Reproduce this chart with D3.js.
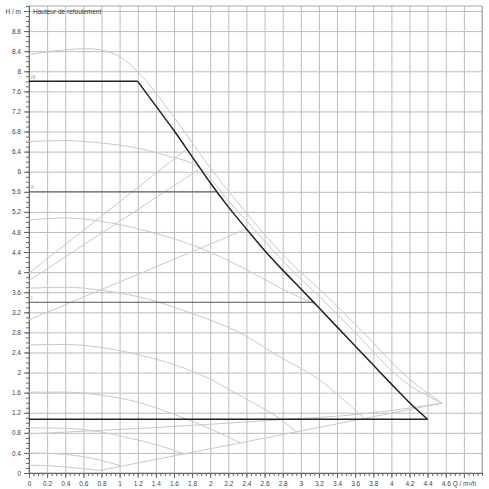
<!DOCTYPE html>
<html>
<head>
<meta charset="utf-8">
<script src="https://cdn.jsdelivr.net/npm/d3@7"></script>
<style>
  html,body{margin:0;padding:0;background:#fff;}
  svg{display:block;font-family:"Liberation Sans",Arial,sans-serif;}
</style>
</head>
<body>
<div id="chart"></div>
<script>
// tick labels
const xTicks=[0,0.2,0.4,0.6,0.8,1,1.2,1.4,1.6,1.8,2,2.2,2.4,2.6,2.8,3,3.2,3.4,3.6,3.8,4,4.2,4.4,4.6];
const yTicks=[0,0.4,0.8,1.2,1.6,2,2.4,2.8,3.2,3.6,4,4.4,4.8,5.2,5.6,6,6.4,6.8,7.2,7.6,8,8.4,8.8];
const xUnit="Q / m³/h", yUnit="H / m", title="Hauteur de refoulement";

// control line (bold) : [Q, H]
const ctrlTop=[[0,7.8],[1.2,7.8]];
const ctrlCurve=[[1.2,7.8],[1.4,7.31],[1.6,6.82],[1.8,6.3],[2,5.78],[2.2,5.3],[2.4,4.86],[2.6,4.43],[2.8,4.04],[3,3.67],[3.2,3.29],[3.4,2.91],[3.6,2.53],[3.8,2.15],[4,1.77],[4.2,1.4],[4.4,1.07]];
const ctrlBottom=[[0,1.07],[4.4,1.07]];

// set points
const stepII=[[0,5.6],[2.07,5.6]];
const stepI=[[0,3.4],[3.14,3.4]];
const stepLabels=[["III",7.8],["II",5.6],["I",3.4]];

// pump curves (light)
const curveMax=[[0,8.33],[0.3,8.41],[0.65,8.45],[0.95,8.34],[1.2,7.99],[1.5,7.33],[1.78,6.63],[2,6.08],[2.3,5.4],[2.6,4.75],[2.9,4.17],[3.3,3.5],[3.7,2.78],[4.2,1.87],[4.56,1.39]];
const curve2=[[0,6.6],[0.4,6.62],[0.8,6.57],[1.2,6.47],[1.5,6.33],[1.9,6.06],[2.2,5.42],[2.5,4.82],[2.85,4.13],[3.2,3.52],[3.6,2.8],[4.1,1.88],[4.56,1.39]];
const curve3=[[0,5.04],[0.4,5.08],[0.9,4.98],[1.34,4.8],[1.89,4.48],[2.41,4.04],[2.8,3.66],[3.16,3.36]];
const curve4=[[0,3.68],[0.4,3.7],[0.8,3.64],[1.23,3.5],[1.78,3.19],[2.33,2.79],[2.77,2.31],[3.21,1.85],[3.45,1.5],[3.7,1.08]];
const curve5=[[0,2.55],[0.4,2.56],[0.8,2.5],[1.22,2.35],[1.6,2.16],[2,1.87],[2.22,1.65],[2.5,1.37],[2.77,1.08],[2.95,0.82]];
const curve6=[[0,1.61],[0.4,1.61],[0.8,1.55],[1.2,1.41],[1.6,1.17],[2,0.88],[2.33,0.6]];
const curve7=[[0,0.9],[0.4,0.89],[0.75,0.83],[1.1,0.7],[1.45,0.54],[1.72,0.38]];
const curve8=[[0,0.4],[0.4,0.37],[0.75,0.27],[1.02,0.14]];
const curve9=[[0,0.16],[0.4,0.12],[0.78,0.05]];

// rising lines (light)
const rise1=[[0,3.98],[1.74,6.45]];
const rise2=[[0,3.83],[1.87,6.04]];
const rise3=[[0,3.05],[2.4,4.86]];
const minLine=[[0.78,0.05],[4.56,1.39]];
const lowLine=[[0,0.78],[1.34,0.9],[2.77,1.06],[3.65,1.17],[4.56,1.39]];

const W=489,H=489;
const x=d3.scaleLinear().domain([0,5]).range([29,482]);
const y=d3.scaleLinear().domain([0,9.3]).range([473,6]);

const svg=d3.select("#chart").append("svg").attr("width",W).attr("height",H);

// grid
const gridX=d3.range(0,26).map(i=>+(i*0.2).toFixed(1));
const gridY=d3.range(0,24).map(i=>+(i*0.4).toFixed(1));
svg.append("g").attr("transform",`translate(0,${y(0)})`)
  .call(d3.axisBottom(x).tickValues(gridX).tickSize(-(y(0)-y(9.3))).tickFormat(""))
  .call(s=>s.select(".domain").remove())
  .call(s=>s.selectAll("line").attr("stroke","#bcbcbc"));
svg.append("g").attr("transform",`translate(${x(0)},0)`)
  .call(d3.axisLeft(y).tickValues(gridY).tickSize(-(x(5)-x(0))).tickFormat(""))
  .call(s=>s.select(".domain").remove())
  .call(s=>s.selectAll("line").attr("stroke","#bcbcbc"));
svg.append("rect").attr("x",x(0)).attr("y",y(9.3)).attr("width",x(5)-x(0)).attr("height",y(0)-y(9.3))
  .attr("fill","none").attr("stroke","#a8a8a8");

// minor ticks
svg.append("g").attr("transform",`translate(0,${y(0)})`)
  .call(d3.axisBottom(x).tickValues(d3.range(0,101).map(i=>i*0.05)).tickSize(3).tickFormat(""))
  .call(s=>s.selectAll("line,path").attr("stroke","#666"));
svg.append("g").attr("transform",`translate(${x(0)},0)`)
  .call(d3.axisLeft(y).tickValues(d3.range(0,93).map(i=>i*0.1)).tickSize(3).tickFormat(""))
  .call(s=>s.selectAll("line,path").attr("stroke","#666"));

// labelled axes
const fmt=d=>String(d);
svg.append("g").attr("transform",`translate(0,${y(0)})`)
  .call(d3.axisBottom(x).tickValues(xTicks.concat([4.8])).tickSize(5).tickPadding(3)
    .tickFormat(d=>d===4.8?xUnit:fmt(d)))
  .call(s=>s.select(".domain").remove())
  .call(s=>s.selectAll("line").attr("stroke","#666"))
  .call(s=>s.selectAll("text").attr("font-size",6.5).attr("fill","#444").attr("font-family","Liberation Sans,Arial,sans-serif"));
svg.append("g").attr("transform",`translate(${x(0)},0)`)
  .call(d3.axisLeft(y).tickValues(yTicks.concat([9.2])).tickSize(5).tickPadding(3)
    .tickFormat(d=>d===9.2?yUnit:fmt(d)))
  .call(s=>s.select(".domain").remove())
  .call(s=>s.selectAll("line").attr("stroke","#666"))
  .call(s=>s.selectAll("text").attr("font-size",6.5).attr("fill","#444").attr("font-family","Liberation Sans,Arial,sans-serif"));

svg.append("text").attr("x",x(0)+4).attr("y",y(9.2)+2.5)
  .attr("font-size",6.5).attr("fill","#333").text(title);

const line=d3.line().x(d=>x(d[0])).y(d=>y(d[1]));
const smooth=d3.line().x(d=>x(d[0])).y(d=>y(d[1])).curve(d3.curveMonotoneX);

// light curves
const lightCurves=[curveMax,curve2,curve3,curve4,curve5,curve6,curve7,curve8,curve9,lowLine];
svg.append("g").selectAll("path").data(lightCurves).join("path")
  .attr("d",smooth).attr("fill","none").attr("stroke","#c9c9c9").attr("stroke-width",1);
svg.append("g").selectAll("path").data([rise1,rise2,rise3,minLine]).join("path")
  .attr("d",line).attr("fill","none").attr("stroke","#c9c9c9").attr("stroke-width",1);

// set lines
svg.append("g").selectAll("path").data([stepII,stepI]).join("path")
  .attr("d",line).attr("fill","none").attr("stroke","#555").attr("stroke-width",1);
svg.append("g").selectAll("text").data(stepLabels).join("text")
  .attr("x",x(0)+2).attr("y",d=>y(d[1])-2.5)
  .attr("font-size",5).attr("fill","#888").text(d=>d[0]);

// bold control line
svg.append("path").attr("d",line(ctrlTop)).attr("fill","none").attr("stroke","#222").attr("stroke-width",1.5);
svg.append("path").attr("d",smooth(ctrlCurve)).attr("fill","none").attr("stroke","#222").attr("stroke-width",1.5);
svg.append("path").attr("d",line(ctrlBottom)).attr("fill","none").attr("stroke","#222").attr("stroke-width",1.5);
</script>
</body>
</html>
